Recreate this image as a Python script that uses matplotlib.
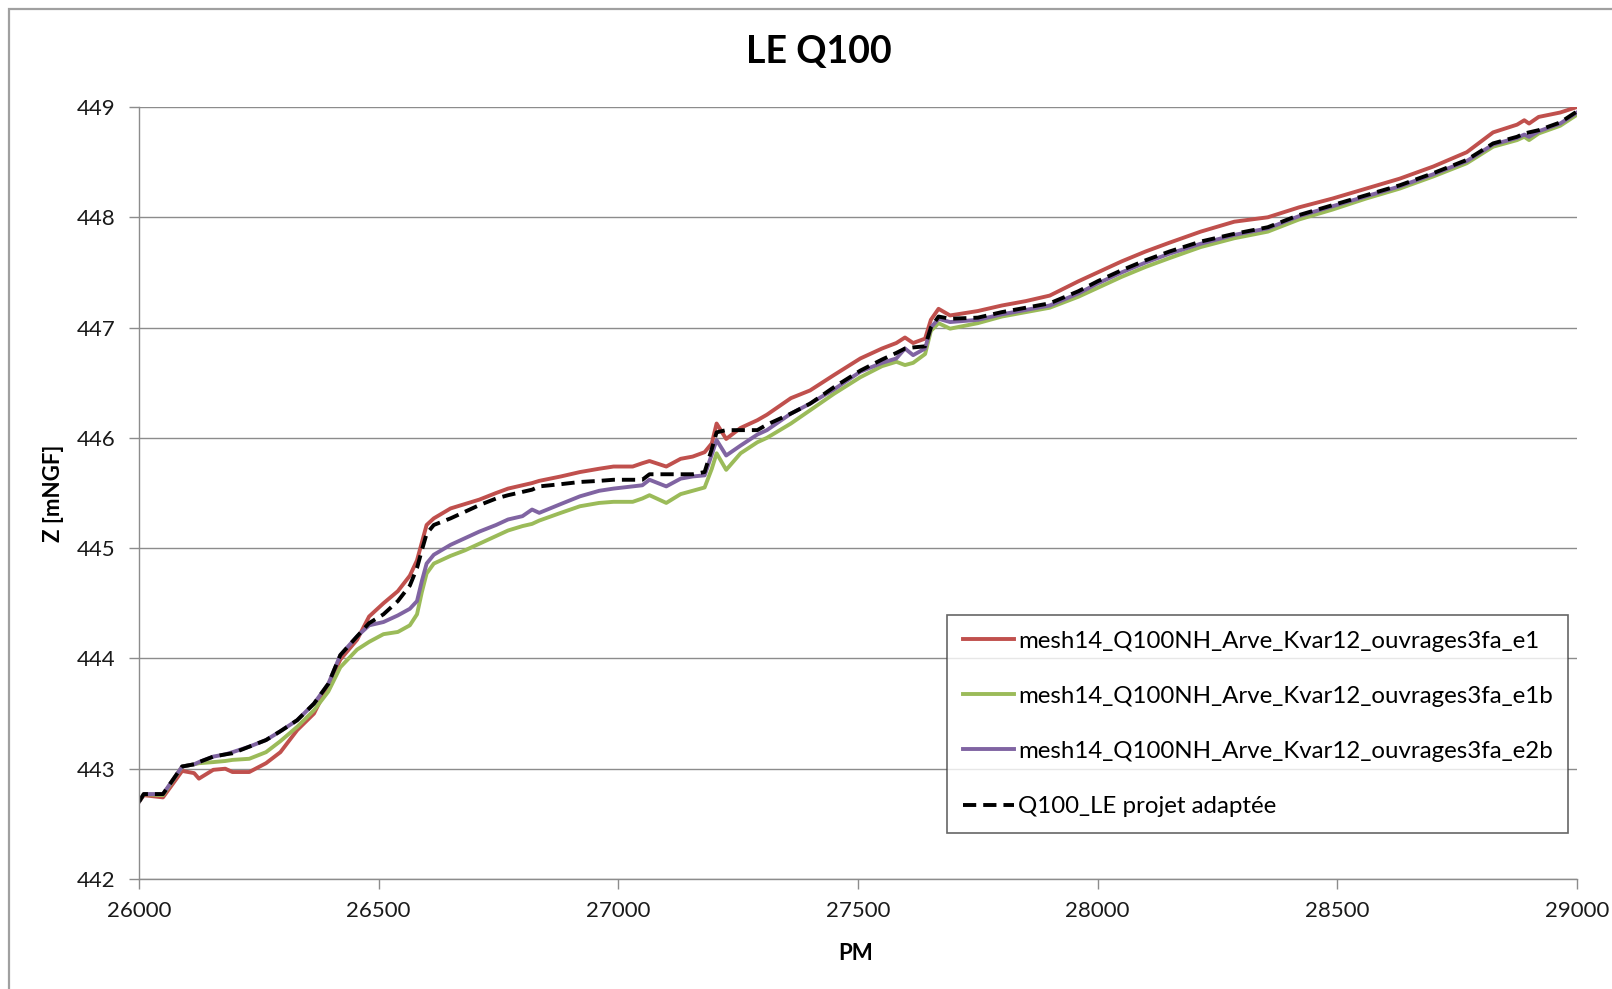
import matplotlib
matplotlib.use("Agg")
from matplotlib import pyplot as plt
from matplotlib.patches import Rectangle

plt.rcParams['font.family'] = ['Lato', 'DejaVu Sans']

# PM positions (shared by all series)
pm = [26000, 26010, 26050, 26090, 26115, 26125, 26155, 26180, 26195, 26230,
      26265, 26295, 26330, 26365, 26395, 26420, 26455, 26480, 26510, 26540,
      26565, 26580, 26590, 26600, 26615, 26650, 26680, 26710, 26745, 26770,
      26800, 26820, 26835, 26880, 26920, 26960, 26990, 27030, 27050, 27065,
      27100, 27130, 27155, 27180, 27195, 27205, 27225, 27255, 27290, 27310,
      27360, 27400, 27450, 27505, 27550, 27580, 27598, 27615, 27640, 27652,
      27668, 27692, 27750, 27800, 27850, 27900, 27960, 28000, 28050, 28100,
      28150, 28215, 28285, 28355, 28420, 28490, 28560, 28630, 28700, 28770,
      28825, 28875, 28890, 28900, 28920, 28965, 29000]

z_e1 = [442.70, 442.76, 442.74, 442.98, 442.96, 442.91, 442.99, 443.00, 442.97, 442.97,
        443.05, 443.15, 443.35, 443.50, 443.76, 443.99, 444.17, 444.38, 444.50, 444.61,
        444.75, 444.89, 445.05, 445.21, 445.27, 445.36, 445.40, 445.44, 445.50, 445.54,
        445.57, 445.59, 445.61, 445.65, 445.69, 445.72, 445.74, 445.74, 445.77, 445.79,
        445.74, 445.81, 445.83, 445.87, 445.95, 446.13, 445.99, 446.09, 446.16, 446.21,
        446.36, 446.43, 446.57, 446.72, 446.81, 446.86, 446.91, 446.86, 446.90, 447.07,
        447.17, 447.11, 447.15, 447.20, 447.24, 447.29, 447.42, 447.50, 447.60, 447.69,
        447.77, 447.87, 447.96, 448.00, 448.09, 448.17, 448.26, 448.35, 448.46, 448.59,
        448.77, 448.84, 448.88, 448.85, 448.91, 448.95, 449.00]

z_e1b = [442.70, 442.77, 442.76, 443.02, 443.04, 443.05, 443.06, 443.07, 443.08, 443.09,
         443.15, 443.25, 443.38, 443.53, 443.70, 443.92, 444.08, 444.15, 444.22, 444.24,
         444.30, 444.40, 444.60, 444.77, 444.86, 444.93, 444.98, 445.04, 445.11, 445.16,
         445.20, 445.22, 445.25, 445.32, 445.38, 445.41, 445.42, 445.42, 445.45, 445.48,
         445.41, 445.49, 445.52, 445.55, 445.72, 445.86, 445.71, 445.86, 445.96, 446.00,
         446.13, 446.25, 446.40, 446.55, 446.65, 446.69, 446.66, 446.68, 446.76, 446.97,
         447.04, 446.99, 447.04, 447.10, 447.14, 447.18, 447.28, 447.36, 447.46, 447.55,
         447.63, 447.73, 447.81, 447.87, 447.98, 448.07, 448.17, 448.26, 448.37, 448.49,
         448.64, 448.70, 448.73, 448.70, 448.76, 448.83, 448.93]

z_e2b = [442.70, 442.77, 442.77, 443.02, 443.04, 443.06, 443.11, 443.13, 443.15, 443.20,
         443.26, 443.34, 443.44, 443.59, 443.77, 444.03, 444.20, 444.30, 444.33, 444.39,
         444.45, 444.52, 444.70, 444.86, 444.94, 445.03, 445.09, 445.15, 445.21, 445.26,
         445.29, 445.35, 445.32, 445.40, 445.47, 445.52, 445.54, 445.56, 445.57, 445.62,
         445.56, 445.63, 445.65, 445.66, 445.85, 445.98, 445.84, 445.93, 446.03, 446.07,
         446.22, 446.31, 446.44, 446.60, 446.68, 446.72, 446.81, 446.75, 446.81, 447.00,
         447.08, 447.05, 447.07, 447.12, 447.16, 447.20, 447.31, 447.40, 447.50, 447.59,
         447.67, 447.76, 447.84, 447.90, 448.01, 448.10, 448.19, 448.28, 448.39, 448.51,
         448.66, 448.72, 448.75, 448.73, 448.78, 448.85, 448.95]

z_le = [442.70, 442.77, 442.77, 443.02, 443.04, 443.06, 443.11, 443.13, 443.14, 443.20,
        443.26, 443.34, 443.44, 443.59, 443.77, 444.03, 444.20, 444.32, 444.40, 444.52,
        444.66, 444.82, 444.98, 445.13, 445.21, 445.27, 445.33, 445.39, 445.45, 445.48,
        445.51, 445.53, 445.56, 445.58, 445.60, 445.61, 445.62, 445.62, 445.62, 445.67,
        445.67, 445.67, 445.67, 445.69, 445.90, 446.05, 446.07, 446.07, 446.07, 446.12,
        446.22, 446.31, 446.46, 446.61, 446.71, 446.77, 446.81, 446.82, 446.83, 447.00,
        447.10, 447.08, 447.09, 447.14, 447.18, 447.22, 447.33, 447.42, 447.52, 447.61,
        447.69, 447.78, 447.85, 447.91, 448.02, 448.11, 448.20, 448.29, 448.40, 448.52,
        448.67, 448.73, 448.76, 448.77, 448.79, 448.86, 448.96]

labels = ["mesh14_Q100NH_Arve_Kvar12_ouvrages3fa_e1",
          "mesh14_Q100NH_Arve_Kvar12_ouvrages3fa_e1b",
          "mesh14_Q100NH_Arve_Kvar12_ouvrages3fa_e2b",
          "Q100_LE projet adaptée"]

x_ticks = list(range(26000, 29001, 500))
y_ticks = list(range(442, 450))

fig = plt.figure(figsize=(16.12, 9.89), dpi=100)
ax = fig.add_axes([139 / 1612, 1 - 879 / 989, (1577 - 139) / 1612, (879 - 107) / 989])

ax.plot(pm, z_e1, color="#C0504D", lw=2.8, label=labels[0])
ax.plot(pm, z_e1b, color="#9BBB59", lw=2.8, label=labels[1])
ax.plot(pm, z_e2b, color="#8064A2", lw=2.8, label=labels[2])
ax.plot(pm, z_le, color="black", lw=2.8, ls=(0, (3.4, 1.8)), label=labels[3])

ax.set_xlim(26000, 29000)
ax.set_ylim(442, 449)
ax.set_xticks(x_ticks)
ax.set_yticks(y_ticks)
ax.grid(axis="y", color="#8c8c8c", lw=1.0)
ax.set_axisbelow(True)
for s in ["top", "right"]:
    ax.spines[s].set_visible(False)
for s in ["left", "bottom"]:
    ax.spines[s].set_color("#8c8c8c")
    ax.spines[s].set_linewidth(1.0)
ax.tick_params(axis="both", direction="out", length=7, width=1.0, color="#8c8c8c",
               labelsize=16, labelcolor="#1a1a1a")
ax.tick_params(axis="y", pad=10)
ax.tick_params(axis="x", pad=9)

fig.text(819 / 1612, 1 - 52 / 989, "LE Q100", ha="center", va="center",
         fontsize=27, fontweight="bold")
fig.text(856 / 1612, 1 - 953 / 989, "PM", ha="center", va="center",
         fontsize=16, fontweight="bold")
fig.text(53 / 1612, 1 - 493 / 989, "Z [mNGF]", ha="center", va="center",
         rotation=90, fontsize=16, fontweight="bold")

leg = ax.legend(loc="upper left", bbox_to_anchor=(947 / 1612, 1 - 615 / 989),
                bbox_transform=fig.transFigure, fontsize=17.3, frameon=True,
                fancybox=False, borderpad=0.65, labelspacing=1.42,
                handlelength=2.15, handletextpad=0.15, borderaxespad=0)
leg.get_frame().set_edgecolor("#404040")
leg.get_frame().set_linewidth(1.2)

# outer chart border (only left and top edges visible)
fig.patches.append(Rectangle((9 / 1612, -0.1), 1.2, 1.1 - 9 / 989, transform=fig.transFigure,
                             fill=False, edgecolor="#a0a0a0", lw=1.6))

fig.savefig("out.png", dpi=100)
